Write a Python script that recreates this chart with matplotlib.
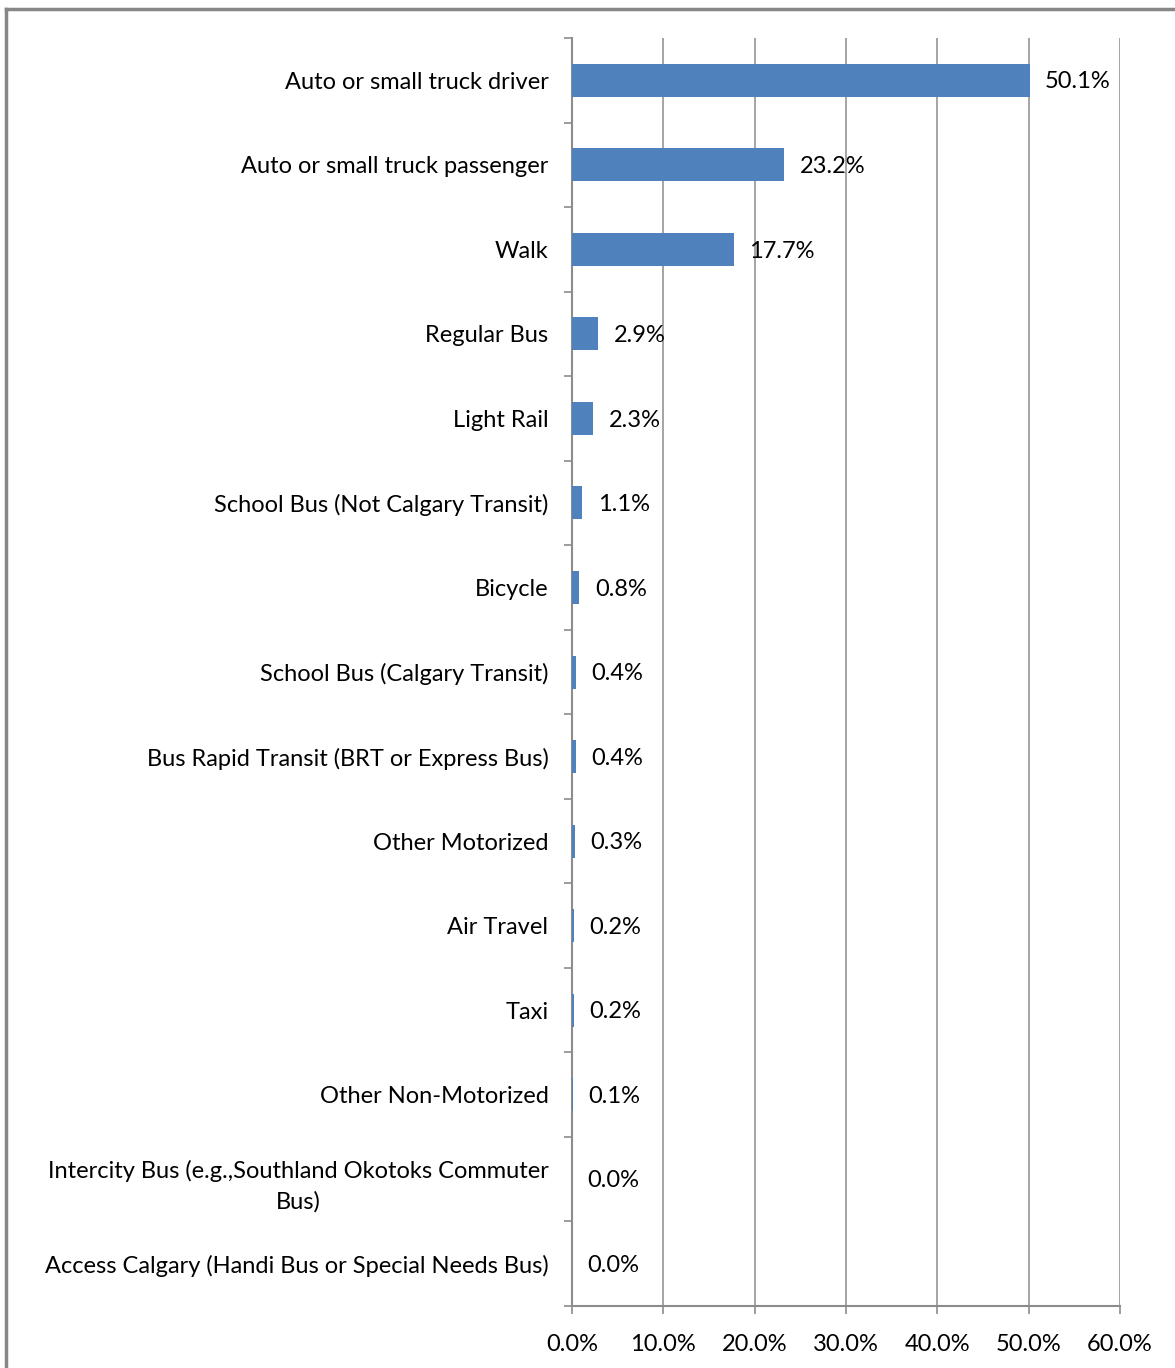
import matplotlib
matplotlib.use("Agg")
import matplotlib.pyplot as plt
from matplotlib.lines import Line2D

plt.rcParams['font.family'] = ['Lato', 'DejaVu Sans']

# data
modes = ["Auto or small truck driver",
         "Auto or small truck passenger",
         "Walk",
         "Regular Bus",
         "Light Rail",
         "School Bus (Not Calgary Transit)",
         "Bicycle",
         "School Bus (Calgary Transit)",
         "Bus Rapid Transit (BRT or Express Bus)",
         "Other Motorized",
         "Air Travel",
         "Taxi",
         "Other Non-Motorized",
         "Intercity Bus (e.g.,Southland Okotoks Commuter\nBus)",
         "Access Calgary (Handi Bus or Special Needs Bus)"]
shares = [50.1, 23.2, 17.7, 2.9, 2.3, 1.1, 0.8, 0.4, 0.4, 0.3, 0.2, 0.2, 0.1, 0.0, 0.0]
xticks = [0, 10, 20, 30, 40, 50, 60]

fig = plt.figure(figsize=(11.75, 13.68), dpi=100)
ax = fig.add_axes([0.4868, 0.0453, 0.4664, 0.9269])

bar_col = "#4f81bd"
grid_col = "#8c8c8c"
fs = 17
n = len(modes)
ypos = list(range(n))
ax.barh(ypos, shares, height=0.39, color=bar_col, zorder=3)
ax.set_ylim(n - 0.5, -0.5)
ax.set_xlim(0, 60)

# value labels
for y, v in zip(ypos, shares):
    ax.text(v + 1.7, y + 0.02, "%.1f%%" % v, va="center", ha="left", fontsize=fs, zorder=4)

# category labels at bar centres, ticks at category boundaries
ax.set_yticks(ypos)
ax.set_yticklabels(modes, fontsize=fs)
ax.tick_params(axis="y", which="major", length=0, pad=17)
ax.set_yticks([i - 0.5 for i in range(n + 1)], minor=True)
ax.tick_params(axis="y", which="minor", length=6, color=grid_col, width=1.2)
for lab in ax.get_yticklabels():
    lab.set_multialignment("center")
    lab.set_linespacing(1.55)

ax.set_xticks(xticks)
ax.set_xticklabels(["%.1f%%" % t for t in xticks], fontsize=fs)
ax.tick_params(axis="x", length=6, color=grid_col, width=1.2, pad=14)
ax.xaxis.grid(True, color=grid_col, linewidth=1.1, zorder=0)

for s in ["top", "right"]:
    ax.spines[s].set_visible(False)
for s in ["left", "bottom"]:
    ax.spines[s].set_color(grid_col)
    ax.spines[s].set_linewidth(1.5)

# outer frame (only top and left edges visible)
fig.add_artist(Line2D([6/1175, 1.0], [1 - 9/1368, 1 - 9/1368], color="#878787", linewidth=2.5))
fig.add_artist(Line2D([6/1175, 6/1175], [1 - 9/1368, 0.0], color="#878787", linewidth=2.5))

fig.savefig("out.png", dpi=100)
